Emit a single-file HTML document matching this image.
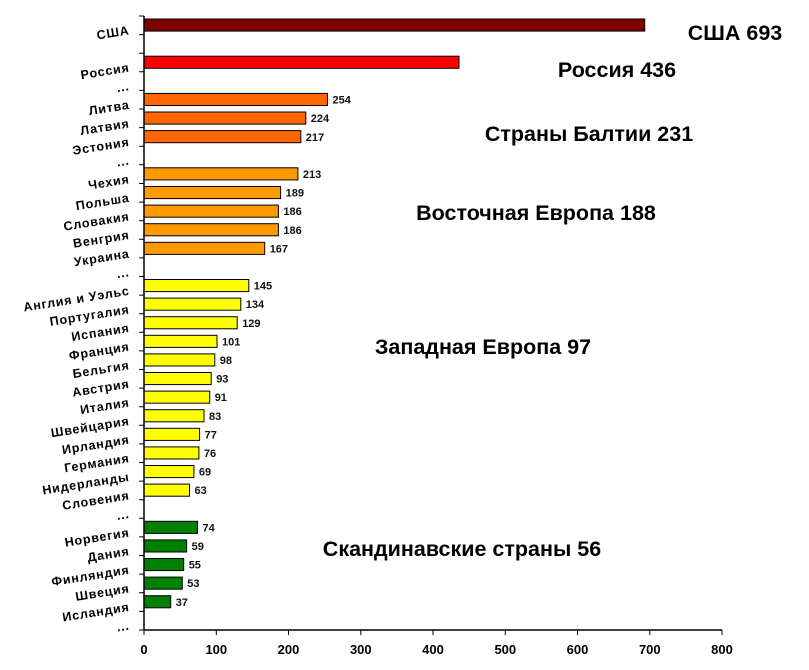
<!DOCTYPE html>
<html><head><meta charset="utf-8"><style>
html,body{margin:0;padding:0;background:#fff;}
svg{display:block;font-family:"Liberation Sans",Arial,sans-serif;}
</style></head><body>
<svg width="809" height="670" xmlns="http://www.w3.org/2000/svg">
<g stroke="#000" stroke-width="1">
<rect x="144" y="19" width="500.7" height="12.1" fill="#800000"/>
<rect x="144" y="56.2" width="315" height="12.1" fill="#ff0000"/>
<rect x="144" y="93.4" width="183.5" height="12.1" fill="#ff6600"/>
<rect x="144" y="112" width="161.8" height="12.1" fill="#ff6600"/>
<rect x="144" y="130.6" width="156.8" height="12.1" fill="#ff6600"/>
<rect x="144" y="167.8" width="153.9" height="12.1" fill="#ff9900"/>
<rect x="144" y="186.5" width="136.6" height="12.1" fill="#ff9900"/>
<rect x="144" y="205.1" width="134.4" height="12.1" fill="#ff9900"/>
<rect x="144" y="223.7" width="134.4" height="12.1" fill="#ff9900"/>
<rect x="144" y="242.3" width="120.7" height="12.1" fill="#ff9900"/>
<rect x="144" y="279.5" width="104.8" height="12.1" fill="#ffff00"/>
<rect x="144" y="298.1" width="96.8" height="12.1" fill="#ffff00"/>
<rect x="144" y="316.7" width="93.2" height="12.1" fill="#ffff00"/>
<rect x="144" y="335.3" width="73" height="12.1" fill="#ffff00"/>
<rect x="144" y="353.9" width="70.8" height="12.1" fill="#ffff00"/>
<rect x="144" y="372.5" width="67.2" height="12.1" fill="#ffff00"/>
<rect x="144" y="391.1" width="65.7" height="12.1" fill="#ffff00"/>
<rect x="144" y="409.7" width="60" height="12.1" fill="#ffff00"/>
<rect x="144" y="428.3" width="55.6" height="12.1" fill="#ffff00"/>
<rect x="144" y="446.9" width="54.9" height="12.1" fill="#ffff00"/>
<rect x="144" y="465.5" width="49.9" height="12.1" fill="#ffff00"/>
<rect x="144" y="484.1" width="45.5" height="12.1" fill="#ffff00"/>
<rect x="144" y="521.3" width="53.5" height="12.1" fill="#008000"/>
<rect x="144" y="539.9" width="42.6" height="12.1" fill="#008000"/>
<rect x="144" y="558.5" width="39.7" height="12.1" fill="#008000"/>
<rect x="144" y="577.1" width="38.3" height="12.1" fill="#008000"/>
<rect x="144" y="595.7" width="26.7" height="12.1" fill="#008000"/>
</g>
<g font-size="11" font-weight="bold" fill="#111">
<text x="332.5" y="103.6">254</text>
<text x="310.8" y="122.2">224</text>
<text x="305.8" y="140.8">217</text>
<text x="302.9" y="178">213</text>
<text x="285.6" y="196.6">189</text>
<text x="283.4" y="215.2">186</text>
<text x="283.4" y="233.8">186</text>
<text x="269.7" y="252.4">167</text>
<text x="253.8" y="289.6">145</text>
<text x="245.8" y="308.2">134</text>
<text x="242.2" y="326.8">129</text>
<text x="222" y="345.4">101</text>
<text x="219.8" y="364">98</text>
<text x="216.2" y="382.6">93</text>
<text x="214.7" y="401.2">91</text>
<text x="209" y="419.8">83</text>
<text x="204.6" y="438.4">77</text>
<text x="203.9" y="457">76</text>
<text x="198.9" y="475.6">69</text>
<text x="194.5" y="494.2">63</text>
<text x="202.5" y="531.4">74</text>
<text x="191.6" y="550">59</text>
<text x="188.7" y="568.6">55</text>
<text x="187.3" y="587.2">53</text>
<text x="175.7" y="605.8">37</text>
</g>
<g font-size="12.5" font-weight="bold" letter-spacing="0.8" text-anchor="end">
<text x="130" y="34.3" transform="rotate(-9 130 34.3)">США</text>
<text x="130" y="71.5" transform="rotate(-9 130 71.5)">Россия</text>
<text x="130" y="90.1" transform="rotate(-9 130 90.1)">...</text>
<text x="130" y="108.7" transform="rotate(-9 130 108.7)">Литва</text>
<text x="130" y="127.3" transform="rotate(-9 130 127.3)">Латвия</text>
<text x="130" y="145.9" transform="rotate(-9 130 145.9)">Эстония</text>
<text x="130" y="164.5" transform="rotate(-9 130 164.5)">...</text>
<text x="130" y="183.1" transform="rotate(-9 130 183.1)">Чехия</text>
<text x="130" y="201.7" transform="rotate(-9 130 201.7)">Польша</text>
<text x="130" y="220.3" transform="rotate(-9 130 220.3)">Словакия</text>
<text x="130" y="238.9" transform="rotate(-9 130 238.9)">Венгрия</text>
<text x="130" y="257.5" transform="rotate(-9 130 257.5)">Украина</text>
<text x="130" y="276.1" transform="rotate(-9 130 276.1)">...</text>
<text x="130" y="294.7" transform="rotate(-9 130 294.7)">Англия и Уэльс</text>
<text x="130" y="313.3" transform="rotate(-9 130 313.3)">Португалия</text>
<text x="130" y="331.9" transform="rotate(-9 130 331.9)">Испания</text>
<text x="130" y="350.5" transform="rotate(-9 130 350.5)">Франция</text>
<text x="130" y="369.1" transform="rotate(-9 130 369.1)">Бельгия</text>
<text x="130" y="387.7" transform="rotate(-9 130 387.7)">Австрия</text>
<text x="130" y="406.3" transform="rotate(-9 130 406.3)">Италия</text>
<text x="130" y="424.9" transform="rotate(-9 130 424.9)">Швейцария</text>
<text x="130" y="443.5" transform="rotate(-9 130 443.5)">Ирландия</text>
<text x="130" y="462.1" transform="rotate(-9 130 462.1)">Германия</text>
<text x="130" y="480.7" transform="rotate(-9 130 480.7)">Нидерланды</text>
<text x="130" y="499.3" transform="rotate(-9 130 499.3)">Словения</text>
<text x="130" y="517.9" transform="rotate(-9 130 517.9)">...</text>
<text x="130" y="536.5" transform="rotate(-9 130 536.5)">Норвегия</text>
<text x="130" y="555.1" transform="rotate(-9 130 555.1)">Дания</text>
<text x="130" y="573.7" transform="rotate(-9 130 573.7)">Финляндия</text>
<text x="130" y="592.3" transform="rotate(-9 130 592.3)">Швеция</text>
<text x="130" y="610.9" transform="rotate(-9 130 610.9)">Исландия</text>
<text x="130" y="629.5" transform="rotate(-9 130 629.5)">...</text>
</g>
<g stroke="#000" stroke-width="1">
<path d="M139 16H144M139 34.6H144M139 53.2H144M139 71.8H144M139 90.4H144M139 109H144M139 127.6H144M139 146.2H144M139 164.8H144M139 183.5H144M139 202.1H144M139 220.7H144M139 239.3H144M139 257.9H144M139 276.5H144M139 295.1H144M139 313.7H144M139 332.3H144M139 350.9H144M139 369.5H144M139 388.1H144M139 406.7H144M139 425.3H144M139 443.9H144M139 462.5H144M139 481.1H144M139 499.7H144M139 518.3H144M139 536.9H144M139 555.5H144M139 574.1H144M139 592.7H144M139 611.4H144M139 630H144"/>
<path d="M144 630V635M216.3 630V635M288.5 630V635M360.8 630V635M433 630V635M505.3 630V635M577.5 630V635M649.8 630V635M722 630V635"/>
</g>
<line x1="144" y1="16" x2="144" y2="630" stroke="#000" stroke-width="1.5"/>
<line x1="144" y1="630" x2="722" y2="630" stroke="#000" stroke-width="1.5"/>
<g font-size="13" font-weight="bold" text-anchor="middle">
<text x="144" y="654">0</text><text x="216.3" y="654">100</text><text x="288.5" y="654">200</text>
<text x="360.8" y="654">300</text><text x="433" y="654">400</text><text x="505.3" y="654">500</text>
<text x="577.5" y="654">600</text><text x="649.8" y="654">700</text><text x="722" y="654">800</text>
</g>
<g font-size="21.5" font-weight="bold" text-anchor="middle" fill="#000">
<text x="735" y="40">США 693</text>
<text x="617" y="77">Россия 436</text>
<text x="589" y="141">Страны Балтии 231</text>
<text x="536" y="220">Восточная Европа 188</text>
<text x="483" y="354">Западная Европа 97</text>
<text x="462" y="556">Скандинавские страны 56</text>
</g>
</svg>
</body></html>
